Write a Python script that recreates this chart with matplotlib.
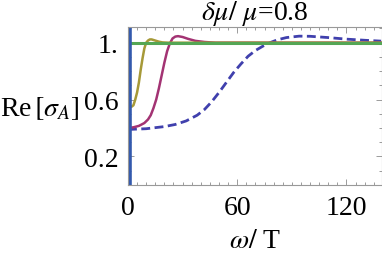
import numpy as np
import matplotlib
matplotlib.use("Agg")
import matplotlib.pyplot as plt
from matplotlib.ticker import MultipleLocator

plt.rcParams['font.family'] = ['Liberation Serif', 'DejaVu Serif']
plt.rcParams['mathtext.fontset'] = 'stix'

# curves (omega/T, Re[sigma_A])
w_olive = [0, 2, 3, 4, 5, 6, 7, 8, 9, 10, 11, 12, 13, 15, 17, 19, 22, 30, 140]
s_olive = [0.55, 0.55, 0.56, 0.60, 0.65, 0.72, 0.81, 0.89, 0.96, 1.00, 1.015, 1.023, 1.023, 1.015, 1.007, 1.002, 1.0, 1.0, 1.0]

w_mag = [0, 3, 6, 9, 11, 12.5, 14, 15.5, 17, 18.5, 20, 21.5, 23, 24.5, 26, 27.5, 30, 33, 37, 42, 48, 60, 140]
s_mag = [0.40, 0.405, 0.415, 0.435, 0.46, 0.49, 0.54, 0.60, 0.68, 0.77, 0.86, 0.94, 0.995, 1.03, 1.043, 1.046, 1.04, 1.027, 1.013, 1.005, 1.0, 1.0, 1.0]

w_dash = [0, 10, 20, 26, 32, 38, 42, 46, 50, 54, 58, 62, 66, 70, 74, 78, 82, 87, 94, 100, 110, 120, 130, 139]
s_dash = [0.39, 0.395, 0.41, 0.425, 0.45, 0.49, 0.53, 0.585, 0.65, 0.72, 0.79, 0.85, 0.905, 0.945, 0.975, 1.0, 1.02, 1.036, 1.046, 1.045, 1.036, 1.025, 1.017, 1.011]

w_spike = 1.0
s_normal = 1.0

fig = plt.figure(figsize=(3.82, 2.55), dpi=100)
ax = fig.add_axes([0.335, 0.271, 0.665, 0.619])

ax.plot(w_dash, s_dash, color=(0.25, 0.25, 0.68), lw=2.0, ls=(0, (3.2, 1.6)))
ax.plot(w_mag, s_mag, color=(0.64, 0.2, 0.45), lw=1.8)
ax.plot(w_olive, s_olive, color=(0.65, 0.6, 0.22), lw=1.8)
ax.axhline(s_normal, color=(0.33, 0.65, 0.33), lw=2.2)
ax.axvline(w_spike, color=(0.2, 0.35, 0.68), lw=2.6)

ax.set_xlim(0, 139.5)
ax.set_ylim(0, 1.11)
ax.set_xticks([0, 60, 120])
ax.set_xticklabels(['0', '60', '120'])
ax.set_yticks([0.2, 0.6, 1.0])
ax.set_yticklabels(['0.2', '0.6', '1.'])
ax.xaxis.set_minor_locator(MultipleLocator(5))
ax.yaxis.set_minor_locator(MultipleLocator(0.1))
ax.tick_params(which='both', direction='in', top=True, right=True,
               colors='0.55', labelcolor='black', labelsize=20, width=0.6)
ax.tick_params(which='major', length=4)
ax.tick_params(which='minor', length=2)
ax.tick_params(axis='x', pad=7)
ax.tick_params(axis='y', pad=7)
for sp in ax.spines.values():
    sp.set_color('0.6')
    sp.set_linewidth(0.8)

ax.set_title(r'$\delta\mu/\ \mu$=0.8', fontsize=20, pad=2)
ax.set_xlabel(r'$\omega/\ $T', fontsize=20, labelpad=6)
ax.set_ylabel(r'Re$\,[\sigma_A]$', fontsize=20, rotation=0, labelpad=0)
ax.yaxis.set_label_coords(-0.503, 0.49)
ax.yaxis.label.set_horizontalalignment('left')
ax.yaxis.label.set_verticalalignment('center')

fig.savefig('out.png', dpi=100)
